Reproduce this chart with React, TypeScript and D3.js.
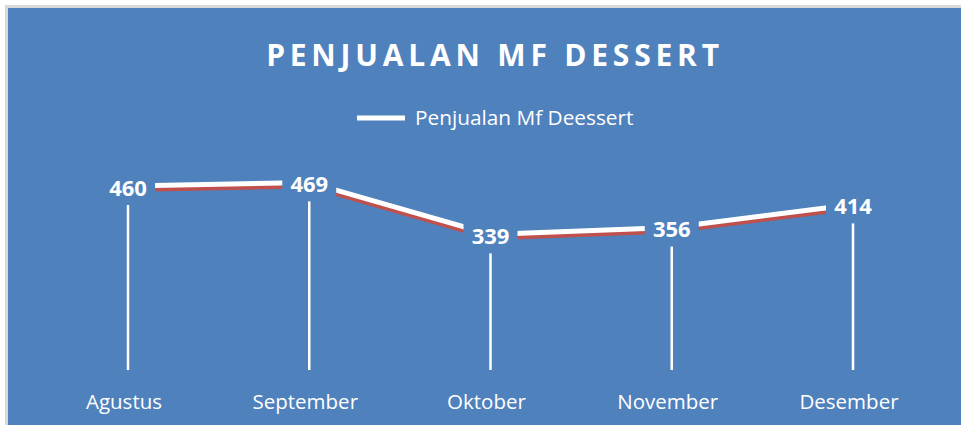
import React from "react";
import * as d3 from "d3";

const categories = ["Agustus", "September", "Oktober", "November", "Desember"];
const values = [460, 469, 339, 356, 414];
const seriesName = "Penjualan Mf Deessert";
const title = "PENJUALAN MF DESSERT";

const W = 961;
const H = 425;
const BLUE = "#4F81BD";
const FONT = "'Open Sans', sans-serif";

export default function App() {
  const x = d3.scalePoint<string>().domain(categories).range([128, 853]);
  const y = d3.scaleLinear().domain([0, 500]).range([370, 170]);
  const pts: [number, number][] = values.map((v, i) => [x(categories[i]) as number, y(v)]);
  const line = d3.line<[number, number]>().x((d) => d[0]).y((d) => d[1]);
  const path = line(pts) || "";

  return (
    <svg width={W} height={H} style={{ position: "absolute", left: 0, top: 0 }}>
      <rect x={0} y={0} width={W} height={H} fill="#ffffff" />
      <rect x={5} y={5} width={W + 10} height={H + 10} fill="#d9d9d9" />
      <rect x={8} y={8} width={W} height={H} fill={BLUE} />

      <text
        x={495}
        y={66}
        textAnchor="middle"
        fill="#ffffff"
        fontFamily={FONT}
        fontWeight={700}
        fontSize={30}
        letterSpacing={4.8}
      >
        {title}
      </text>

      {/* legend */}
      <line x1={357} x2={405} y1={118} y2={118} stroke="#ffffff" strokeWidth={5} />
      <text x={415} y={125} fill="#ffffff" fontFamily={FONT} fontSize={20.8}>
        {seriesName}
      </text>

      {/* drop lines */}
      {pts.map((p, i) => (
        <line key={"d" + i} x1={p[0]} x2={p[0]} y1={p[1]} y2={y(0)} stroke="#ffffff" strokeWidth={2.5} />
      ))}

      {/* series line with shadow */}
      <path d={path} fill="none" stroke="#C0504D" strokeWidth={5} transform="translate(0,3.5)" />
      <path d={path} fill="none" stroke="#ffffff" strokeWidth={5} />

      {/* data labels */}
      {pts.map((p, i) => (
        <g key={"l" + i}>
          <rect x={p[0] - 27} y={p[1] - 16} width={54} height={35} fill={BLUE} />
          <text
            x={p[0]}
            y={p[1] + 2}
            dy="0.35em"
            textAnchor="middle"
            fill="#ffffff"
            fontFamily={FONT}
            fontWeight={700}
            fontSize={22}
          >
            {values[i]}
          </text>
        </g>
      ))}

      {/* category labels */}
      {categories.map((c) => (
        <text
          key={c}
          x={(x(c) as number) - 4}
          y={409}
          textAnchor="middle"
          fill="#ffffff"
          fontFamily={FONT}
          fontSize={20.5}
        >
          {c}
        </text>
      ))}
    </svg>
  );
}
